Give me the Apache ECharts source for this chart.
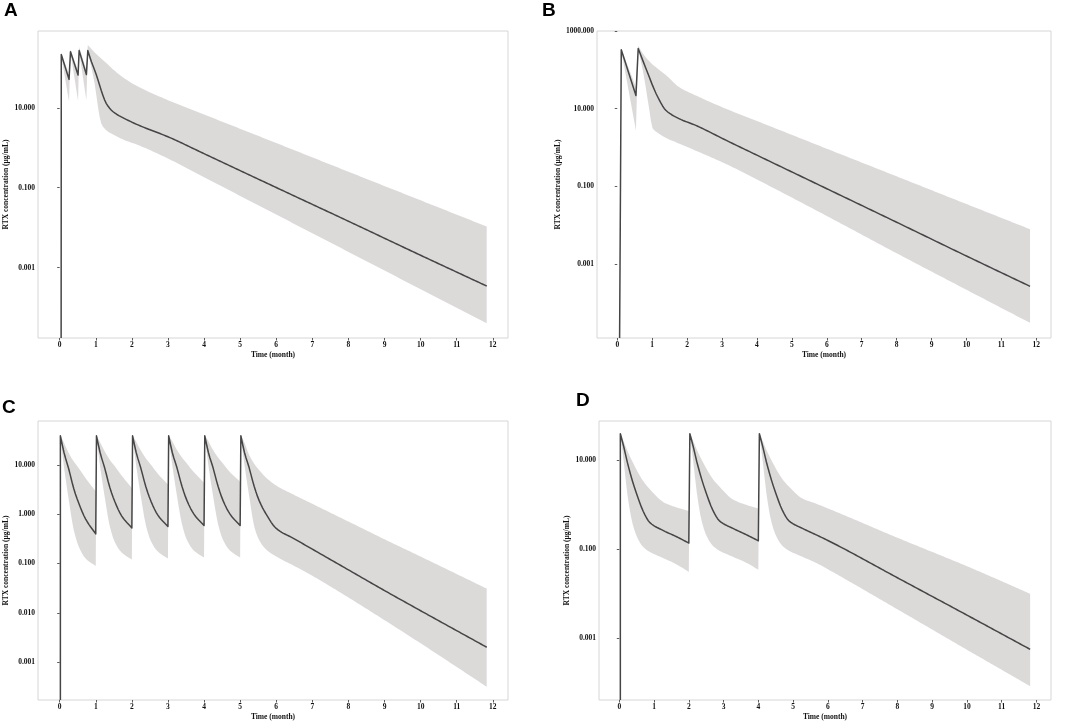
<!DOCTYPE html>
<html>
<head>
<meta charset="utf-8">
<title>RTX concentration</title>
<script src="https://cdn.jsdelivr.net/npm/echarts@6/dist/echarts.min.js"></script>
<style>
  html, body { margin: 0; padding: 0; background: #fff; }
  #main { width: 1065px; height: 722px; }
</style>
</head>
<body>
<div id="main"></div>
<script>
// x axis ticks (month)
var monthTicks = [0, 1, 2, 3, 4, 5, 6, 7, 8, 9, 10, 11, 12];

// panel A - weekly x4
var timeA = [0.04, 0.045, 0.26, 0.30, 0.51, 0.54, 0.74, 0.78, 0.88, 0.97, 1.06, 1.15, 1.29, 1.48, 1.8, 2.17, 3, 4, 6, 8, 10, 11.83];
var midA = [0.000001, 216, 51.3, 251, 66.1, 269, 67.6, 269, 141, 87.1, 50.1, 27.5, 12.9, 7.94, 5.37, 3.72, 1.88, 0.711, 0.101, 0.0145, 0.00204, 0.000347];
var highA = [null, 229, 70.8, 288, 85.1, 331, 89.1, 372, 295, 240, 204, 170, 132, 91.2, 53.7, 33.9, 15.5, 6.79, 1.31, 0.251, 0.0483, 0.0107];
var lowA = [null, 200, 14.1, 240, 14.8, 257, 15.5, 251, 100, 39.8, 10.7, 4.07, 2.75, 2.14, 1.55, 1.17, 0.537, 0.183, 0.0213, 0.00248, 0.000289, 0.0000407];
var yTicksA = [10, 0.1, 0.001];

// panel B - two doses
var timeB = [0.06, 0.115, 0.535, 0.60, 0.75, 0.92, 1.01, 1.16, 1.39, 1.78, 2.25, 3.11, 4, 6, 8, 10, 11.82];
var midB = [0.000001, 331, 21.9, 355, 158, 64.6, 39.8, 20.0, 9.12, 5.50, 3.72, 1.55, 0.638, 0.0875, 0.012, 0.00162, 0.000269];
var highB = [null, 347, 35.5, 417, 251, 166, 138, 107, 74.1, 35.5, 21.9, 10, 4.82, 0.935, 0.182, 0.0352, 0.00794];
var lowB = [null, 316, 2.75, 339, 79.4, 9.12, 3.16, 2.40, 1.78, 1.26, 0.832, 0.38, 0.151, 0.0174, 0.00191, 0.000219, 0.0000309];
var yTicksB = [1000, 10, 0.1, 0.001];

// panel C - monthly x6
var timeC = [0.02,
  0.02, 0.12, 0.25, 0.39, 0.53, 0.72, 1.0,
  1.02, 1.12, 1.25, 1.39, 1.53, 1.72, 2.0,
  2.02, 2.12, 2.25, 2.39, 2.53, 2.72, 3.0,
  3.02, 3.12, 3.25, 3.39, 3.53, 3.72, 4.0,
  4.02, 4.12, 4.25, 4.39, 4.53, 4.72, 5.0,
  5.02, 5.12, 5.25, 5.39, 5.53, 5.72, 6.0, 6.5, 7.0, 8, 9, 10, 11.83];
var midC = [0.000001,
  38.9, 17.8, 8.32, 3.31, 1.66, 0.794, 0.398,
  38.9, 17.8, 8.51, 3.47, 1.78, 0.912, 0.525,
  38.9, 17.8, 8.51, 3.55, 1.82, 0.955, 0.562,
  38.9, 17.8, 8.71, 3.63, 1.86, 1.0, 0.589,
  38.9, 17.8, 8.71, 3.63, 1.86, 1.0, 0.589,
  38.9, 17.8, 8.71, 3.63, 1.86, 1.0, 0.513, 0.316, 0.195, 0.0741, 0.0282, 0.011, 0.002];
var highC = [null,
  39.8, 28.2, 17.4, 11.7, 8.51, 5.37, 2.88,
  39.8, 28.8, 18.6, 12.6, 9.33, 6.03, 3.39,
  39.8, 29.5, 19.5, 13.5, 10.0, 6.61, 3.98,
  39.8, 30.2, 20.0, 14.1, 10.5, 7.08, 4.37,
  39.8, 30.2, 20.0, 14.1, 10.5, 7.08, 4.57,
  39.8, 28.2, 15.8, 10.5, 7.76, 5.5, 3.8, 2.45, 1.62, 0.708, 0.309, 0.138, 0.0309];
var lowC = [null,
  35.5, 8.91, 2.0, 0.479, 0.219, 0.126, 0.0891,
  35.5, 9.33, 2.19, 0.562, 0.269, 0.166, 0.120,
  35.5, 9.55, 2.29, 0.589, 0.282, 0.174, 0.126,
  35.5, 9.77, 2.34, 0.617, 0.295, 0.182, 0.132,
  35.5, 9.77, 2.34, 0.617, 0.295, 0.182, 0.132,
  35.5, 9.77, 2.34, 0.562, 0.295, 0.191, 0.138, 0.0891, 0.0562, 0.0204, 0.00708, 0.0024, 0.000316];
var yTicksC = [10, 1, 0.1, 0.01, 0.001];

// panel D - every 2 months x3
var timeD = [0.03,
  0.03, 0.13, 0.23, 0.38, 0.53, 0.69, 0.88, 1.27, 1.65, 2.0,
  2.03, 2.13, 2.23, 2.38, 2.53, 2.69, 2.88, 3.27, 3.65, 4.0,
  4.03, 4.13, 4.23, 4.38, 4.53, 4.69, 4.88, 5.27, 5.65, 6.0, 8, 10, 11.82];
var midD = [0.000001,
  39.8, 20.0, 9.12, 3.39, 1.51, 0.708, 0.398, 0.263, 0.191, 0.138,
  39.8, 20.0, 9.33, 3.55, 1.58, 0.759, 0.437, 0.295, 0.214, 0.155,
  39.8, 20.0, 9.33, 3.55, 1.58, 0.759, 0.437, 0.295, 0.214, 0.158, 0.0229, 0.00331, 0.000562];
var highD = [null,
  41.7, 26.3, 16.6, 9.33, 5.5, 3.39, 2.24, 1.15, 0.871, 0.724,
  41.7, 26.9, 17.4, 10, 6.03, 3.8, 2.57, 1.32, 1.0, 0.832,
  41.7, 26.9, 17.4, 10, 6.03, 3.8, 2.57, 1.38, 1.07, 0.832, 0.182, 0.0417, 0.01];
var lowD = [null,
  38.0, 8.91, 1.78, 0.380, 0.174, 0.112, 0.0871, 0.0631, 0.0457, 0.0309,
  38.0, 9.12, 1.86, 0.398, 0.186, 0.120, 0.0933, 0.0676, 0.0501, 0.0347,
  38.0, 9.12, 1.86, 0.398, 0.186, 0.120, 0.0933, 0.0676, 0.0501, 0.0355, 0.00447, 0.00055, 0.0000832];
var yTicksD = [10, 0.1, 0.001];

var serif = 'Liberation Serif';
var bandColor = '#dcd9d9';
var lineColor = '#454545';

var panels = [
    {grid: {left: 38, top: 31, width: 470, height: 307}, x: [-0.6, 12.42], y: [1.74e-5, 832], ticks: yTicksA, nameGap: 22,
     t: timeA, mid: midA, lo: lowA, hi: highA},
    {grid: {left: 597, top: 31, width: 454, height: 307}, x: [-0.58, 12.42], y: [1.26e-5, 1000], ticks: yTicksB, nameGap: 29,
     t: timeB, mid: midB, lo: lowB, hi: highB},
    {grid: {left: 38, top: 421, width: 470, height: 281}, x: [-0.6, 12.42], y: [1.7e-4, 77.6], ticks: yTicksC, nameGap: 22,
     t: timeC, mid: midC, lo: lowC, hi: highC},
    {grid: {left: 599, top: 421, width: 452, height: 281}, x: [-0.584, 12.42], y: [4.07e-5, 76.9], ticks: yTicksD, nameGap: 21,
     t: timeD, mid: midD, lo: lowD, hi: highD}
];

// monotone cubic through pixel points; a run breaks at near-vertical jumps (doses)
function smoothRun(pts) {
    var n = pts.length;
    if (n < 3) return pts.slice();
    var dx = [], m = [], tan = [];
    for (var i = 0; i < n - 1; i++) {
        dx.push(pts[i + 1][0] - pts[i][0]);
        m.push((pts[i + 1][1] - pts[i][1]) / dx[i]);
    }
    tan[0] = m[0];
    tan[n - 1] = m[n - 2];
    for (i = 1; i < n - 1; i++) {
        if (m[i - 1] * m[i] <= 0) tan[i] = 0;
        else tan[i] = 3 * (dx[i - 1] + dx[i]) / ((2 * dx[i] + dx[i - 1]) / m[i - 1] + (dx[i] + 2 * dx[i - 1]) / m[i]);
    }
    var out = [pts[0]];
    for (i = 0; i < n - 1; i++) {
        var steps = Math.max(2, Math.ceil(dx[i] / 2));
        for (var s = 1; s <= steps; s++) {
            var u = s / steps, u2 = u * u, u3 = u2 * u;
            var y = (2 * u3 - 3 * u2 + 1) * pts[i][1] + (u3 - 2 * u2 + u) * dx[i] * tan[i]
                  + (-2 * u3 + 3 * u2) * pts[i + 1][1] + (u3 - u2) * dx[i] * tan[i + 1];
            out.push([pts[i][0] + u * dx[i], y]);
        }
    }
    return out;
}

function smoothEdge(pts) {
    var out = [], run = [];
    for (var i = 0; i < pts.length; i++) {
        if (run.length && pts[i][0] - run[run.length - 1][0] < 2.5) {
            out = out.concat(smoothRun(run));
            run = [];
        }
        run.push(pts[i]);
    }
    return out.concat(smoothRun(run));
}

function edgePoints(api, t, v) {
    var pts = [];
    for (var i = 0; i < t.length; i++) {
        if (v[i] != null) pts.push(api.coord([t[i], v[i]]));
    }
    return pts;
}

// polygon band: upper edge forward, lower edge back
function bandRenderer(t, lo, hi) {
    return function (params, api) {
        if (params.dataIndex !== 0) return;
        var upper = smoothEdge(edgePoints(api, t, hi));
        var lower = smoothEdge(edgePoints(api, t, lo)).reverse();
        return {
            type: 'polygon',
            shape: {points: upper.concat(lower)},
            style: {fill: bandColor}
        };
    };
}

function lineRenderer(t, mid) {
    return function (params, api) {
        if (params.dataIndex !== 0) return;
        return {
            type: 'polyline',
            shape: {points: smoothEdge(edgePoints(api, t, mid))},
            style: {stroke: lineColor, lineWidth: 1.5, fill: null, lineJoin: 'round'}
        };
    };
}

var grids = [], xAxes = [], yAxes = [], series = [];
panels.forEach(function (p, k) {
    grids.push(Object.assign({show: true, borderColor: '#d6d6d6', borderWidth: 1, backgroundColor: 'transparent'}, p.grid));
    xAxes.push({
        type: 'value', gridIndex: k, min: p.x[0], max: p.x[1],
        name: 'Time (month)', nameLocation: 'middle', nameGap: 13,
        nameTextStyle: {fontFamily: serif, fontWeight: 'bold', fontSize: 7.5, color: '#111'},
        axisLine: {show: false},
        splitLine: {show: false},
        axisTick: {show: true, length: 2.5, customValues: monthTicks, lineStyle: {color: '#333', width: 0.8}},
        axisLabel: {customValues: monthTicks, margin: 3, fontFamily: serif, fontWeight: 'bold', fontSize: 7.5, color: '#111'}
    });
    yAxes.push({
        type: 'log', logBase: 10, gridIndex: k, min: p.y[0], max: p.y[1],
        name: 'RTX concentration (μg/mL)', nameLocation: 'middle', nameGap: p.nameGap, nameRotate: 90,
        nameTextStyle: {fontFamily: serif, fontWeight: 'bold', fontSize: 7.5, color: '#111'},
        axisLine: {show: false},
        splitLine: {show: false},
        minorTick: {show: false},
        axisTick: {show: true, length: 2.5, customValues: p.ticks, lineStyle: {color: '#333', width: 0.8}},
        axisLabel: {
            customValues: p.ticks, margin: 3, fontFamily: serif, fontWeight: 'bold', fontSize: 7.5, color: '#111',
            formatter: function (v) { return Number(v).toFixed(3); }
        }
    });
    var bandData = [], lineData = [];
    for (var i = 0; i < p.t.length; i++) {
        if (p.lo[i] != null) bandData.push([p.t[i], p.lo[i], p.hi[i]]);
        lineData.push([p.t[i], p.mid[i]]);
    }
    series.push({
        type: 'custom', xAxisIndex: k, yAxisIndex: k, clip: true, silent: true,
        renderItem: bandRenderer(p.t, p.lo, p.hi),
        encode: {x: 0, y: [1, 2]},
        data: bandData, z: 1
    });
    series.push({
        type: 'custom', xAxisIndex: k, yAxisIndex: k, clip: true, silent: true,
        renderItem: lineRenderer(p.t, p.mid),
        encode: {x: 0, y: 1},
        data: lineData, z: 3
    });
});

var letterFont = 'bold 19px "Liberation Sans", Arial, sans-serif';
var chart = echarts.init(document.getElementById('main'));
chart.setOption({
    animation: false,
    backgroundColor: '#fff',
    grid: grids,
    xAxis: xAxes,
    yAxis: yAxes,
    series: series,
    graphic: [
        {type: 'text', left: 4, top: 1, style: {text: 'A', font: letterFont, fill: '#000'}},
        {type: 'text', left: 542, top: 1, style: {text: 'B', font: letterFont, fill: '#000'}},
        {type: 'text', left: 2, top: 398, style: {text: 'C', font: letterFont, fill: '#000'}},
        {type: 'text', left: 576, top: 391, style: {text: 'D', font: letterFont, fill: '#000'}}
    ]
});
</script>
</body>
</html>
